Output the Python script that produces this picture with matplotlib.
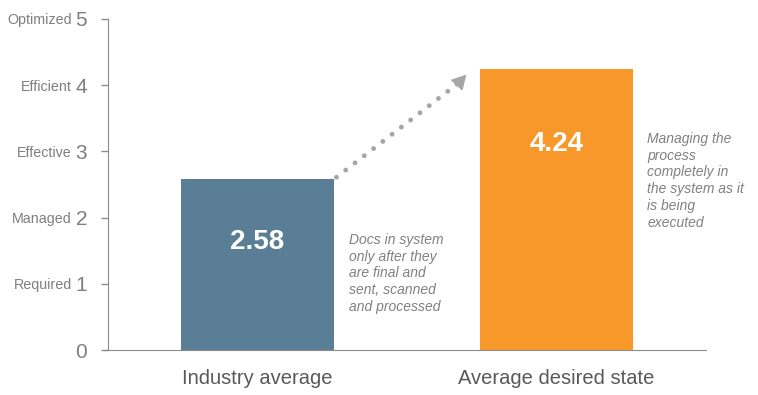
import matplotlib.pyplot as plt

# data
categories = ['Industry average', 'Average desired state']
values = [2.58, 4.24]
bar_colors = ['#5B7E97', '#F8972A']
level_ticks = [0, 1, 2, 3, 4, 5]
level_names = ['', 'Required', 'Managed', 'Effective', 'Efficient', 'Optimized']
notes = ['Docs in system\nonly after they\nare final and\nsent, scanned\nand processed',
         'Managing the\nprocess\ncompletely in\nthe system as it\nis being\nexecuted']

plt.rcParams['font.family'] = ['Liberation Sans', 'DejaVu Sans']

fig = plt.figure(figsize=(7.58, 3.95), dpi=100)
ax = fig.add_axes([108 / 758, 45 / 395, 598 / 758, 331 / 395])

x = list(range(len(categories)))
ax.bar(x, values, width=0.51, color=bar_colors, zorder=2)

# value labels inside bars
ax.text(x[0], 1.63, '{:.2f}'.format(values[0]), color='white',
        fontsize=20, fontweight='bold', ha='center', va='center')
ax.text(x[1], 3.11, '{:.2f}'.format(values[1]), color='white',
        fontsize=20, fontweight='bold', ha='center', va='center')

ax.set_xlim(-0.5, 1.5)
ax.set_ylim(0, 5)

ax.set_xticks(x)
ax.set_xticklabels(categories, fontsize=14.5, color='#595959')
ax.tick_params(axis='x', length=0, pad=14)

ax.set_yticks(level_ticks)
ax.set_yticklabels([str(t) for t in level_ticks], fontsize=15, color='#7f7f7f')
ax.tick_params(axis='y', length=5, width=1, color='#8c8c8c', pad=10)

for t, name in zip(level_ticks, level_names):
    ax.text(-0.060, t - 0.02, name, transform=ax.get_yaxis_transform(), fontsize=10.3,
            color='#7f7f7f', ha='right', va='center')

for side in ['top', 'right']:
    ax.spines[side].set_visible(False)
ax.spines['left'].set_color('#8c8c8c')
ax.spines['bottom'].set_color('#8c8c8c')
ax.spines['bottom'].set_bounds(-0.515, 1.5)
ax.spines['bottom'].set_clip_on(False)

# notes beside bars
ax.text(0.307, 1.77, notes[0], fontsize=10, style='italic', color='#808080',
        ha='left', va='top', linespacing=1.25)
ax.text(1.304, 3.30, notes[1], fontsize=10, style='italic', color='#808080',
        ha='left', va='top', linespacing=1.27)

# dotted arrow between bars
x0, y0 = 0.264, 2.61
x1, y1 = 0.68, 4.06
ax.plot([x0, x1], [y0, y1], color='#a6a6a6', lw=3.5,
        linestyle=(0, (0.01, 2.4)), dash_capstyle='round', zorder=3)
ax.annotate('', xy=(0.705, 4.19), xytext=(0.67, 4.02),
            arrowprops=dict(arrowstyle='-|>,head_width=0.5,head_length=0.9',
                            color='#a6a6a6', lw=1))

plt.savefig('out.png', dpi=100)
